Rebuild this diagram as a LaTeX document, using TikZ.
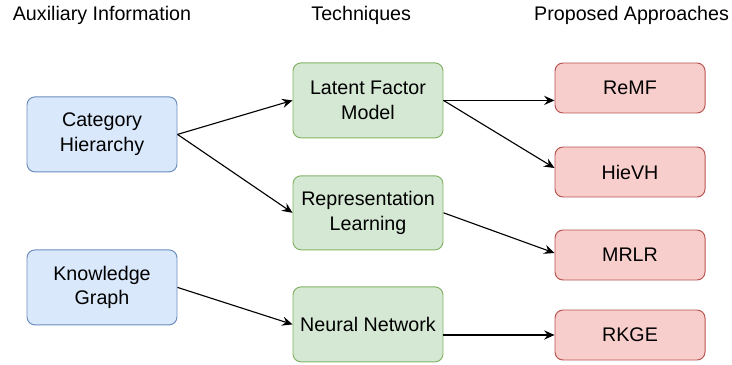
\documentclass[tikz,border=0pt]{standalone}
\usepackage{fontspec}
\setmainfont{Liberation Sans}
\usepackage{tikz}
\usetikzlibrary{arrows.meta}
\definecolor{aux-fill}{HTML}{DAE8FC}
\definecolor{aux-draw}{HTML}{6C8EBF}
\definecolor{tech-fill}{HTML}{D5E8D4}
\definecolor{tech-draw}{HTML}{82B366}
\definecolor{appr-fill}{HTML}{F8CECC}
\definecolor{appr-draw}{HTML}{B85450}

\begin{document}
\begin{tikzpicture}[node distance=2cm, font=\fontsize{14}{17.5}\selectfont,
		>={Stealth[length=2.6mm, width=2.3mm, inset=0.9mm]}]
		\useasboundingbox (0,0) rectangle (18.3,-9.125);
		
		% Draw the column titles
		\node (auxtitle) [anchor=base] at (2.55,-0.525) {Auxiliary Information};
		\node (techtitle) [anchor=base] at (9.03,-0.525) {Techniques};
		\node (apprtitle) [anchor=base] at (15.79,-0.525) {Proposed Approaches};
		
		% Draw the auxiliary information
		\node (cat) [draw=aux-draw, fill=aux-fill, rounded corners=0.2cm, line width=0.7pt, align=center, minimum width=3.75cm, minimum height=1.875cm] at (2.55,-3.36) {Category\\Hierarchy};
		\node (kg) [draw=aux-draw, fill=aux-fill, rounded corners=0.2cm, line width=0.7pt, align=center, minimum width=3.75cm, minimum height=1.875cm, below of=cat, yshift=-1.825cm] {Knowledge\\Graph};
		
		% Draw the techniques
		\node (lfm) [draw=tech-draw, fill=tech-fill, rounded corners=0.2cm, line width=0.7pt, align=center, minimum width=3.75cm, minimum height=1.875cm, right of=cat, xshift=4.65cm, yshift=0.85cm] {Latent Factor\\Model};
		\node (rl) [draw=tech-draw, fill=tech-fill, rounded corners=0.2cm, line width=0.7pt, align=center, minimum width=3.75cm, minimum height=1.85cm, below of=lfm, yshift=-0.81cm] {Representation\\Learning};
		\node (nn) [draw=tech-draw, fill=tech-fill, rounded corners=0.2cm, line width=0.7pt, align=center, minimum width=3.75cm, minimum height=1.875cm, below of=rl, yshift=-0.79cm] {Neural Network};
		
		% Draw the proposed approaches
		\node (remf) [draw=appr-draw, fill=appr-fill, rounded corners=0.2cm, line width=0.7pt, minimum width=3.75cm, minimum height=1.25cm, right of=lfm, xshift=4.55cm, yshift=0.31cm] {ReMF};
		\node (hievh) [draw=appr-draw, fill=appr-fill, rounded corners=0.2cm, line width=0.7pt, minimum width=3.75cm, minimum height=1.25cm, below of=remf, yshift=-0.1cm] {HieVH};
		\node (mrlr) [draw=appr-draw, fill=appr-fill, rounded corners=0.2cm, line width=0.7pt, minimum width=3.75cm, minimum height=1.25cm, below of=hievh, yshift=-0.075cm] {MRLR};
		\node (rkge) [draw=appr-draw, fill=appr-fill, rounded corners=0.2cm, line width=0.7pt, minimum width=3.75cm, minimum height=1.25cm, below of=mrlr] {RKGE};
		
		% Connect the blocks with arrows
		\draw[->, line width=0.8pt] (cat.east) -- (lfm.west);
		\draw[->, line width=0.8pt] (cat.east) -- (rl.west);
		\draw[->, line width=0.8pt] (kg.east) -- (nn.west);
		\draw[->, line width=0.8pt] (lfm.east) -- (remf.west |- lfm.east);
		\draw[->, line width=0.8pt] (lfm.east) -- ([yshift=0.1cm]hievh.west);
		\draw[->, line width=0.8pt] (rl.east) -- ([yshift=0.05cm]mrlr.west);
		\draw[->, line width=0.8pt] (nn.east |- rkge.west) -- (rkge.west);
		\end{tikzpicture}
\end{document}
